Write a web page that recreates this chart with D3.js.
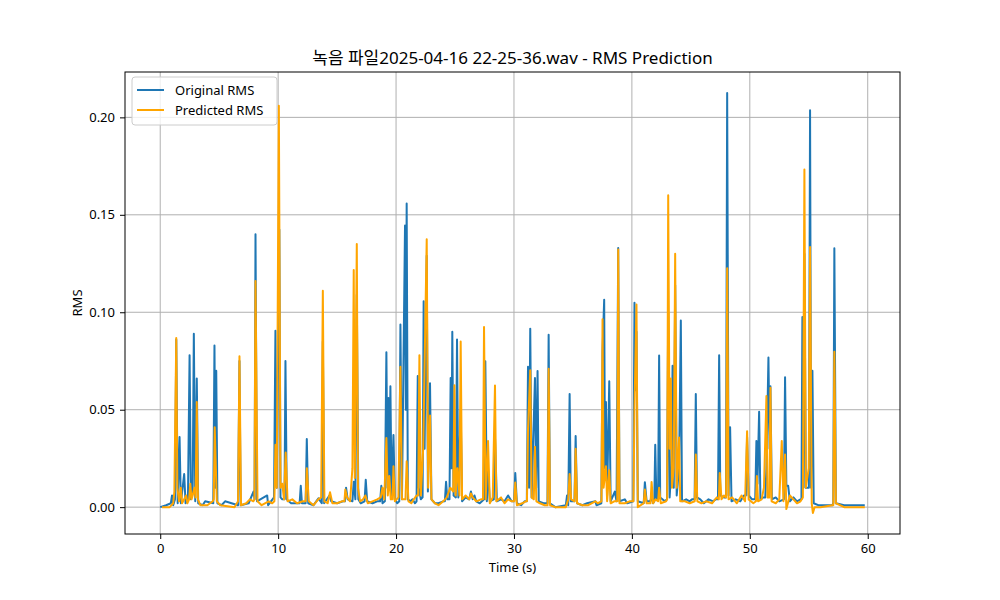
<!DOCTYPE html>
<html>
<head>
<meta charset="utf-8">
<script src="https://cdn.jsdelivr.net/npm/d3@7"></script>
<style>
  body { margin: 0; background: #fff; }
  text { font-family: "Noto Sans", "Noto Sans CJK KR", sans-serif; }
</style>
</head>
<body>
<div class="chart"></div>
<script>
let FRAME_WIDTH = 1000;
let FRAME_HEIGHT = 600;
let MARGINS = {left: 125, right: 100, top: 72, bottom: 66};

let PLOT_WIDTH = FRAME_WIDTH - MARGINS.left - MARGINS.right;
let PLOT_HEIGHT = FRAME_HEIGHT - MARGINS.top - MARGINS.bottom;

const TITLE = "녹음 파일2025-04-16 22-25-36.wav - RMS Prediction";
const X_TICKS = [0, 10, 20, 30, 40, 50, 60];
const Y_TICKS = [0, 0.05, 0.10, 0.15, 0.20];
const SERIES_NAMES = ["Original RMS", "Predicted RMS"];

// original rms (time in s), rows of 10
const origTime = [0, 0.5, 0.9, 1.0, 1.1, 1.25, 1.36, 1.48, 1.64, 1.75,
  2.03, 2.15, 2.35, 2.49, 2.6, 2.75, 2.85, 2.97, 3.1, 3.22,
  3.6, 3.81, 4.5, 4.6, 4.68, 4.75, 4.85, 5.2, 5.5, 6.6,
  6.72, 6.82, 7.5, 7.91, 8.0, 8.08, 8.2, 9.07, 9.15, 9.65,
  9.77, 9.88, 10.1, 10.2, 10.35, 10.54, 10.62, 10.73, 10.9, 11.1,
  11.5, 11.82, 11.92, 12.02, 12.33, 12.43, 12.55, 13.0, 13.42, 13.7,
  13.79, 13.9, 14.35, 14.5, 15.0, 15.5, 15.66, 15.76, 15.9, 16.3,
  16.41, 16.55, 16.67, 16.8, 17.0, 17.33, 17.43, 17.55, 18.0, 18.4,
  18.65, 18.75, 18.85, 19.05, 19.18, 19.27, 19.35, 19.43, 19.52, 19.62,
  19.78, 19.9, 20.1, 20.27, 20.37, 20.5, 20.76, 20.83, 20.9, 21.0,
  21.2, 21.4, 21.6, 21.74, 21.84, 21.92, 22.1, 22.25, 22.34, 22.42,
  22.6, 22.7, 22.88, 23.0, 23.3, 23.6, 24.0, 24.14, 24.24, 24.35,
  24.53, 24.63, 24.7, 24.77, 24.88, 25.07, 25.17, 25.28, 25.48, 25.6,
  25.9, 26.2, 26.35, 26.5, 26.65, 26.8, 27.1, 27.47, 27.57, 27.7,
  27.8, 27.95, 28.29, 28.39, 28.55, 28.9, 29.2, 29.5, 29.8, 30.01,
  30.11, 30.25, 30.6, 30.9, 31.09, 31.19, 31.28, 31.38, 31.5, 31.78,
  31.88, 32.0, 32.1, 32.5, 32.84, 32.94, 33.05, 33.5, 34.4, 34.5,
  34.6, 34.72, 34.82, 35.13, 35.23, 35.35, 35.8, 36.2, 36.9, 37.0,
  37.41, 37.51, 37.65, 37.72, 37.8, 37.9, 38.08, 38.2, 38.55, 38.7,
  38.84, 38.95, 39.4, 39.6, 40.12, 40.22, 40.32, 40.39, 40.5, 41.0,
  41.1, 41.25, 41.57, 41.67, 41.8, 41.9, 41.98, 42.08, 42.22, 42.31,
  42.4, 42.8, 42.98, 43.08, 43.2, 43.35, 43.45, 43.55, 43.67, 43.8,
  44.0, 44.15, 44.25, 44.6, 44.9, 45.1, 45.32, 45.42, 45.52, 45.8,
  46.1, 46.5, 46.9, 47.1, 47.3, 47.4, 47.5, 47.8, 47.98, 48.08,
  48.2, 48.33, 48.45, 48.8, 49.2, 49.5, 49.67, 49.77, 49.9, 50.2,
  50.46, 50.56, 50.65, 50.79, 50.9, 51.1, 51.31, 51.41, 51.58, 51.68,
  51.75, 51.87, 52.2, 52.5, 52.89, 52.99, 53.1, 53.25, 53.4, 53.7,
  54.0, 54.3, 54.38, 54.46, 54.55, 54.63, 54.75, 55.01, 55.11, 55.2,
  55.31, 55.42, 55.8, 56.5, 57.0, 57.08, 57.17, 57.3, 58.0, 59.0,
  59.5, 59.75];
const origRms = [0, 0.001, 0.002, 0.006, 0.001, 0.004, 0.086, 0.002, 0.036, 0.002,
  0.017, 0.002, 0.004, 0.078, 0.004, 0.008, 0.089, 0.003, 0.066, 0.002,
  0.001, 0.003, 0.002, 0.083, 0.010, 0.070, 0.002, 0.001, 0.003, 0.001,
  0.075, 0.001, 0.002, 0.008, 0.004, 0.140, 0.003, 0.006, 0.001, 0.005,
  0.0905, 0.010, 0.1425, 0.005, 0.004, 0.004, 0.075, 0.004, 0.003, 0.002,
  0.002, 0.002, 0.011, 0.002, 0.002, 0.035, 0.002, 0.001, 0.0045, 0.002,
  0.085, 0.002, 0.006, 0.003, 0.002, 0.003, 0.003, 0.010, 0.004, 0.003,
  0.013, 0.004, 0.109, 0.004, 0.002, 0.003, 0.014, 0.003, 0.002, 0.003,
  0.003, 0.011, 0.002, 0.003, 0.0795, 0.010, 0.056, 0.010, 0.062, 0.006,
  0.037, 0.004, 0.002, 0.003, 0.0937, 0.004, 0.1445, 0.050, 0.1558, 0.004,
  0.003, 0.004, 0.002, 0.003, 0.0673, 0.010, 0.004, 0.005, 0.1056, 0.030,
  0.129, 0.008, 0.0636, 0.004, 0.002, 0.002, 0.003, 0.003, 0.013, 0.004,
  0.004, 0.0663, 0.020, 0.090, 0.006, 0.005, 0.086, 0.005, 0.050, 0.003,
  0.005, 0.004, 0.008, 0.004, 0.006, 0.003, 0.002, 0.004, 0.0748, 0.003,
  0.020, 0.003, 0.004, 0.036, 0.003, 0.004, 0.003, 0.006, 0.003, 0.003,
  0.0175, 0.002, 0.001, 0.003, 0.003, 0.072, 0.010, 0.0916, 0.005, 0.0663,
  0.010, 0.0698, 0.003, 0.002, 0.002, 0.0885, 0.002, 0, 0.001, 0.006,
  0.001, 0.058, 0.003, 0.003, 0.0365, 0.002, 0.001, 0.002, 0.003, 0.001,
  0.002, 0.080, 0.1064, 0.020, 0.054, 0.006, 0.0646, 0.003, 0.008, 0.003,
  0.133, 0.003, 0.004, 0.002, 0.003, 0.1049, 0.060, 0.090, 0.003, 0.002,
  0.0128, 0.003, 0.003, 0.006, 0.002, 0.003, 0.032, 0.004, 0.004, 0.0778,
  0.005, 0.003, 0.004, 0.100, 0.005, 0.020, 0.0725, 0.010, 0.114, 0.006,
  0.020, 0.0958, 0.003, 0.004, 0.003, 0.004, 0.004, 0.058, 0.005, 0.004,
  0.002, 0.004, 0.003, 0.004, 0.004, 0.078, 0.006, 0.005, 0.005, 0.2125,
  0.006, 0.041, 0.003, 0.004, 0.003, 0.006, 0.006, 0.036, 0.006, 0.004,
  0.004, 0.034, 0.012, 0.049, 0.004, 0.005, 0.005, 0.020, 0.0768, 0.030,
  0.062, 0.004, 0.005, 0.003, 0.004, 0.0667, 0.011, 0.011, 0.003, 0.005,
  0.003, 0.004, 0.004, 0.0976, 0.010, 0.130, 0.010, 0.010, 0.2036, 0.010,
  0.070, 0.002, 0.001, 0.001, 0.001, 0.002, 0.1328, 0.002, 0.001, 0.001,
  0.001, 0.001];

// predicted rms, rows of 10
const predTime = [0.15, 0.8, 1.1, 1.2, 1.36, 1.45, 1.6, 1.75, 1.85, 2.2,
  2.3, 2.45, 2.55, 2.65, 2.75, 2.9, 3.0, 3.1, 3.2, 3.4,
  4.0, 4.45, 4.54, 4.62, 4.8, 5.1, 6.3, 6.6, 6.72, 6.85,
  7.3, 7.6, 7.9, 7.99, 8.08, 8.25, 8.6, 9.2, 9.5, 9.68,
  9.77, 9.88, 10.06, 10.2, 10.35, 10.5, 10.64, 10.8, 11.2, 11.6,
  12.1, 12.33, 12.43, 12.6, 13.0, 13.4, 13.65, 13.79, 13.92, 14.2,
  14.4, 14.6, 15.0, 15.4, 15.62, 15.7, 15.85, 16.1, 16.3, 16.41,
  16.5, 16.67, 16.77, 16.95, 17.2, 17.4, 17.6, 18.0, 18.4, 18.7,
  18.85, 19.0, 19.18, 19.3, 19.43, 19.55, 19.7, 19.78, 19.9, 20.2,
  20.37, 20.5, 20.8, 20.9, 21.05, 21.3, 21.5, 21.75, 21.88, 21.98,
  22.1, 22.3, 22.6, 22.72, 22.88, 23.0, 23.3, 23.6, 24.0, 24.3,
  24.6, 24.85, 24.95, 25.05, 25.2, 25.38, 25.48, 25.6, 25.9, 26.2,
  26.35, 26.5, 26.8, 27.2, 27.37, 27.46, 27.6, 27.8, 27.95, 28.2,
  28.39, 28.5, 28.9, 29.2, 29.5, 29.8, 30.02, 30.11, 30.25, 30.7,
  31.0, 31.1, 31.19, 31.38, 31.5, 31.68, 31.78, 31.9, 32.2, 32.6,
  32.85, 32.94, 33.06, 33.5, 34.4, 34.6, 34.72, 34.85, 35.14, 35.23,
  35.35, 35.8, 36.3, 36.9, 37.1, 37.42, 37.51, 37.6, 37.8, 37.9,
  38.08, 38.2, 38.5, 38.76, 38.84, 38.95, 39.4, 39.8, 40.13, 40.22,
  40.39, 40.5, 41.0, 41.1, 41.25, 41.58, 41.67, 41.8, 42.0, 42.22,
  42.31, 42.45, 42.9, 42.99, 43.08, 43.2, 43.3, 43.4, 43.55, 43.67,
  43.8, 44.0, 44.1, 44.5, 44.9, 45.33, 45.42, 45.55, 45.9, 46.3,
  46.8, 47.2, 47.37, 47.45, 47.6, 47.8, 47.99, 48.08, 48.2, 48.5,
  48.9, 49.3, 49.6, 49.77, 49.9, 50.3, 50.52, 50.6, 50.7, 51.0,
  51.2, 51.41, 51.5, 51.66, 51.75, 51.85, 52.2, 52.5, 52.71, 52.85,
  52.99, 53.1, 53.4, 53.7, 54.0, 54.3, 54.5, 54.63, 54.75, 55.0,
  55.11, 55.25, 55.35, 55.5, 56.0, 57.0, 57.08, 57.17, 57.3, 58.0,
  59.0, 59.75];
const predRms = [0, 0, 0.002, 0.008, 0.0868, 0.010, 0.003, 0.010, 0.002, 0.006,
  0.002, 0.004, 0.012, 0.004, 0.006, 0.010, 0.005, 0.054, 0.004, 0.001,
  0.001, 0.003, 0.004, 0.041, 0.003, 0.001, 0, 0.003, 0.0774, 0.001,
  0.002, 0.004, 0.003, 0.004, 0.116, 0.003, 0.001, 0.003, 0.002, 0.003,
  0.032, 0.010, 0.206, 0.010, 0.012, 0.004, 0.028, 0.003, 0.004, 0.002,
  0.003, 0.003, 0.020, 0.003, 0.001, 0.004, 0.005, 0.111, 0.003, 0.002,
  0.0077, 0.002, 0.002, 0.003, 0.003, 0.009, 0.005, 0.003, 0.020, 0.1217,
  0.015, 0.135, 0.010, 0.003, 0.004, 0.006, 0.002, 0.003, 0.004, 0.005,
  0.010, 0.004, 0.0355, 0.006, 0.016, 0.004, 0.004, 0.021, 0.003, 0.005,
  0.072, 0.004, 0.004, 0.0235, 0.003, 0.002, 0.004, 0.006, 0.006, 0.078,
  0.006, 0.030, 0.1374, 0.010, 0.047, 0.004, 0.002, 0.001, 0.003, 0.005,
  0.010, 0.008, 0.0625, 0.006, 0.020, 0.006, 0.085, 0.004, 0.006, 0.004,
  0.007, 0.005, 0.003, 0.004, 0.004, 0.0924, 0.004, 0.034, 0.002, 0.005,
  0.0624, 0.003, 0.005, 0.002, 0.004, 0.003, 0.003, 0.0126, 0.001, 0.002,
  0.003, 0.003, 0.040, 0.0703, 0.005, 0.004, 0.031, 0.003, 0.002, 0.001,
  0.001, 0.071, 0.001, 0, 0, 0.004, 0.017, 0.004, 0.003, 0.030,
  0.002, 0.001, 0.001, 0.003, 0.002, 0.003, 0.0964, 0.010, 0.021, 0.003,
  0.019, 0.002, 0.003, 0.003, 0.1322, 0.002, 0.002, 0.003, 0.003, 0.050,
  0.104, 0, 0.002, 0.009, 0.002, 0.002, 0.0129, 0.002, 0.004, 0.003,
  0.010, 0.002, 0.003, 0.004, 0.160, 0.030, 0.066, 0.010, 0.020, 0.130,
  0.010, 0.0358, 0.003, 0.003, 0.002, 0.003, 0.027, 0.003, 0.002, 0.003,
  0.002, 0.005, 0.004, 0.0175, 0.004, 0.006, 0.005, 0.1226, 0.004, 0.005,
  0.002, 0.006, 0.003, 0.039, 0.004, 0.002, 0.003, 0.016, 0.003, 0.004,
  0.010, 0.057, 0.005, 0.005, 0.0613, 0.003, 0.002, 0.004, 0.034, 0.003,
  0.027, -0.001, 0.006, 0.004, 0.002, 0.003, 0.005, 0.1732, 0.010, 0.020,
  0.1335, 0.002, -0.003, 0, 0, 0.001, 0.001, 0.0798, 0.002, 0,
  0, 0];

const COLORS = ["#1f77b4", "orange"];

let FRAME = d3.select(".chart")
              .append("svg")
              .attr("width", FRAME_WIDTH)
              .attr("height", FRAME_HEIGHT);

let origData = origTime.map((t, i) => ({t: t, v: origRms[i]}));
let predData = predTime.map((t, i) => ({t: t, v: predRms[i]}));
let allData = origData.concat(predData);

// matplotlib style 5% padding
const X_MIN = d3.min(allData, d => d.t), X_MAX = d3.max(allData, d => d.t);
const Y_MIN = d3.min(allData, d => d.v), Y_MAX = d3.max(allData, d => d.v);
const xPad = (X_MAX - X_MIN) * 0.05, yPad = (Y_MAX - Y_MIN) * 0.05;

const X_SCALE = d3.scaleLinear()
                  .domain([X_MIN - xPad, X_MAX + xPad])
                  .range([0, PLOT_WIDTH]);
const Y_SCALE = d3.scaleLinear()
                  .domain([Y_MIN - yPad, Y_MAX + yPad])
                  .range([PLOT_HEIGHT, 0]);

let PLOT = FRAME.append("g")
                .attr("transform", "translate(" + MARGINS.left + "," + MARGINS.top + ")");

// grid lines
PLOT.selectAll(".xgrid").data(X_TICKS).enter().append("line")
    .attr("x1", d => X_SCALE(d)).attr("x2", d => X_SCALE(d))
    .attr("y1", 0).attr("y2", PLOT_HEIGHT)
    .attr("stroke", "#b0b0b0").attr("stroke-width", 1);
PLOT.selectAll(".ygrid").data(Y_TICKS).enter().append("line")
    .attr("y1", d => Y_SCALE(d)).attr("y2", d => Y_SCALE(d))
    .attr("x1", 0).attr("x2", PLOT_WIDTH)
    .attr("stroke", "#b0b0b0").attr("stroke-width", 1);

let line = d3.line().x(d => X_SCALE(d.t)).y(d => Y_SCALE(d.v));

PLOT.append("clipPath").attr("id", "clip")
    .append("rect").attr("width", PLOT_WIDTH).attr("height", PLOT_HEIGHT);

let lines = PLOT.append("g").attr("clip-path", "url(#clip)");
[origData, predData].forEach((data, i) => {
    lines.append("path")
         .datum(data)
         .attr("d", line)
         .attr("fill", "none")
         .attr("stroke", COLORS[i])
         .attr("stroke-width", 2)
         .attr("stroke-linejoin", "round");
});

// axes
let xAxis = PLOT.append("g")
    .attr("transform", "translate(0," + PLOT_HEIGHT + ")")
    .call(d3.axisBottom(X_SCALE).tickValues(X_TICKS).tickSize(5).tickPadding(5).tickFormat(d3.format("d")));
let yAxis = PLOT.append("g")
    .call(d3.axisLeft(Y_SCALE).tickValues(Y_TICKS).tickSize(5).tickPadding(5).tickFormat(d3.format(".2f")));
[xAxis, yAxis].forEach(a => {
    a.select(".domain").remove();
    a.selectAll("text").attr("font-size", "13px").attr("fill", "#000")
     .attr("font-family", '"Noto Sans", sans-serif');
    a.selectAll("line").attr("stroke", "#000").attr("stroke-width", 1);
});

// frame
PLOT.append("rect")
    .attr("width", PLOT_WIDTH).attr("height", PLOT_HEIGHT)
    .attr("fill", "none").attr("stroke", "#000").attr("stroke-width", 1);

// title and labels
FRAME.append("text")
     .attr("x", MARGINS.left + PLOT_WIDTH / 2)
     .attr("y", 64)
     .attr("text-anchor", "middle")
     .style("font-size", "17px")
     .text(TITLE);

FRAME.append("text")
     .attr("x", MARGINS.left + PLOT_WIDTH / 2)
     .attr("y", 572)
     .attr("text-anchor", "middle")
     .style("font-size", "13px")
     .text("Time (s)");

FRAME.append("text")
     .attr("transform", "rotate(-90)")
     .attr("x", -(MARGINS.top + PLOT_HEIGHT / 2))
     .attr("y", 82)
     .attr("text-anchor", "middle")
     .style("font-size", "13px")
     .text("RMS");

// legend
let LEGEND = PLOT.append("g").attr("transform", "translate(7,5)");
LEGEND.append("rect")
      .attr("width", 145).attr("height", 48).attr("rx", 3)
      .attr("fill", "#fff").attr("fill-opacity", 0.8)
      .attr("stroke", "#ccc").attr("stroke-width", 1);
SERIES_NAMES.forEach((name, i) => {
    LEGEND.append("line")
          .attr("x1", 5).attr("x2", 32)
          .attr("y1", 13 + i * 20).attr("y2", 13 + i * 20)
          .attr("stroke", COLORS[i]).attr("stroke-width", 2);
    LEGEND.append("text")
          .attr("x", 43).attr("y", 18 + i * 20)
          .style("font-size", "13px")
          .text(name);
});
</script>
</body>
</html>
